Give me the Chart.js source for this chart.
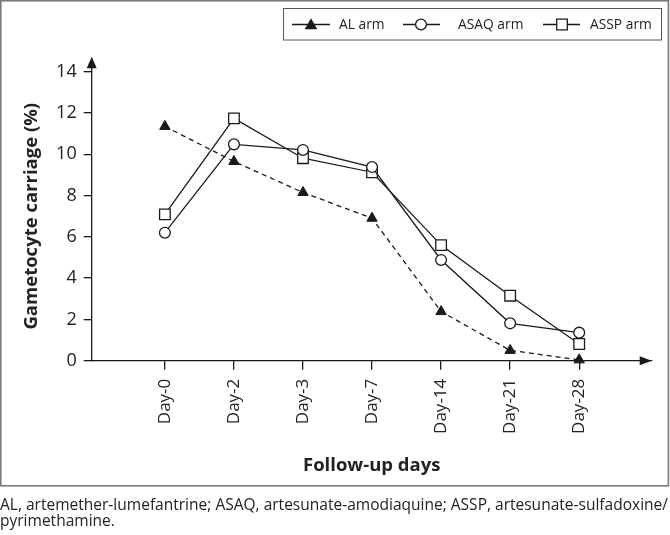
<!DOCTYPE html>
<html><head><meta charset="utf-8">
<script src="https://cdn.jsdelivr.net/npm/chart.js@4/dist/chart.umd.min.js"></script>
<style>
html,body{margin:0;padding:0;background:#fff;}
#wrap{position:relative;width:670px;height:535px;overflow:hidden;}
#c{position:absolute;left:0;top:0;}
.cap{position:absolute;left:0;font-family:"Open Sans";font-size:16.5px;color:#222;white-space:nowrap;transform-origin:0 0;line-height:1;}
</style></head><body>
<div id="wrap"><canvas id="c" width="670" height="535"></canvas>
<div class="cap" id="cap1" style="top:496px">AL, artemether-lumefantrine; ASAQ, artesunate-amodiaquine; ASSP, artesunate-sulfadoxine/</div>
<div class="cap" id="cap2" style="top:512.4px">pyrimethamine.</div>
</div>
<script>
// ---- data ----
const categories = ['Day-0','Day-2','Day-3','Day-7','Day-14','Day-21','Day-28'];
const alArm   = [11.35, 9.65, 8.15, 6.9, 2.38, 0.5, 0.04];
const asaqArm = [6.2, 10.48, 10.21, 9.38, 4.88, 1.81, 1.36];
const asspArm = [7.09, 11.74, 9.81, 9.13, 5.6, 3.15, 0.81];
const yTickValues = [0, 2, 4, 6, 8, 10, 12, 14];
const seriesNames = ['AL arm', 'ASAQ arm', 'ASSP arm'];

const INK = '#1a1a1a';
const TXT = '#222';

function drawMarker(ctx, style, x, y) {
  ctx.save();
  ctx.lineWidth = 1.3;
  ctx.strokeStyle = INK;
  ctx.beginPath();
  if (style === 'triangle') {
    const r = 6;
    ctx.moveTo(x, y - r);
    ctx.lineTo(x + r * Math.sin(2*Math.PI/3), y - r * Math.cos(2*Math.PI/3));
    ctx.lineTo(x + r * Math.sin(4*Math.PI/3), y - r * Math.cos(4*Math.PI/3));
    ctx.closePath();
    ctx.fillStyle = INK; ctx.fill(); ctx.stroke();
  } else if (style === 'circle') {
    ctx.arc(x, y, 5.4, 0, Math.PI * 2);
    ctx.fillStyle = '#fff'; ctx.fill(); ctx.stroke();
  } else {
    const s = 5.3;
    ctx.rect(x - s, y - s, 2*s, 2*s);
    ctx.fillStyle = '#fff'; ctx.fill(); ctx.stroke();
  }
  ctx.restore();
}

const deco = {
  id: 'deco',
  afterDraw(chart) {
    const ctx = chart.ctx, ca = chart.chartArea;
    ctx.save();
    // outer frame
    ctx.strokeStyle = '#7a7a7a';
    ctx.lineWidth = 1.6;
    ctx.strokeRect(0.8, 0.8, 667.6, 485);
    // axis extensions + arrows
    ctx.strokeStyle = INK; ctx.fillStyle = INK; ctx.lineWidth = 1.3;
    ctx.beginPath(); ctx.moveTo(ca.left, ca.top); ctx.lineTo(ca.left, ca.top - 8); ctx.stroke();
    ctx.beginPath();
    ctx.moveTo(ca.left, ca.top - 15);
    ctx.lineTo(ca.left + 5, ca.top - 3.5);
    ctx.lineTo(ca.left - 5, ca.top - 3.5);
    ctx.closePath(); ctx.fill();
    ctx.beginPath();
    ctx.moveTo(ca.right, ca.bottom);
    ctx.lineTo(ca.right - 12, ca.bottom - 4.5);
    ctx.lineTo(ca.right - 12, ca.bottom + 4.5);
    ctx.closePath(); ctx.fill();
    // legend box
    ctx.strokeStyle = '#555'; ctx.lineWidth = 1;
    ctx.strokeRect(283.5, 8.5, 378, 31.5);
    const items = [
      {x1: 292, x2: 330, mx: 311, style: 'triangle', tx: 339},
      {x1: 403, x2: 440, mx: 421, style: 'circle', tx: 458},
      {x1: 543, x2: 580, mx: 562, style: 'rect', tx: 590}
    ];
    const ly = 24.5;
    items.forEach((it, i) => {
      ctx.strokeStyle = INK; ctx.lineWidth = 1.3;
      ctx.beginPath(); ctx.moveTo(it.x1, ly); ctx.lineTo(it.x2, ly); ctx.stroke();
      drawMarker(ctx, it.style, it.mx, it.style === 'triangle' ? ly + 1 : ly);
      ctx.save();
      ctx.translate(it.tx, ly);
      ctx.scale(0.92, 1);
      ctx.font = '15px "Open Sans"';
      ctx.textBaseline = 'middle';
      ctx.textAlign = 'left';
      ctx.fillStyle = TXT;
      ctx.fillText(seriesNames[i], 0, 0);
      ctx.restore();
    });
    ctx.restore();
  }
};

function toPts(arr) { return arr.map((v, i) => ({x: i, y: v})); }

function build() {
  new Chart(document.getElementById('c'), {
    type: 'line',
    data: {
      datasets: [
        {label: seriesNames[0], data: toPts(alArm), borderColor: INK, borderWidth: 1.3, borderDash: [5, 4],
         pointStyle: 'triangle', pointRadius: 6, pointBackgroundColor: INK, pointBorderColor: INK, pointBorderWidth: 1, tension: 0, clip: false},
        {label: seriesNames[1], data: toPts(asaqArm), borderColor: INK, borderWidth: 1.3,
         pointStyle: 'circle', pointRadius: 5.4, pointBackgroundColor: '#fff', pointBorderColor: INK, pointBorderWidth: 1.3, tension: 0, clip: false},
        {label: seriesNames[2], data: toPts(asspArm), borderColor: INK, borderWidth: 1.3,
         pointStyle: 'rect', pointRadius: 7.5, pointBackgroundColor: '#fff', pointBorderColor: INK, pointBorderWidth: 1.3, tension: 0, clip: false}
      ]
    },
    options: {
      responsive: false,
      animation: false,
      layout: {padding: {top: 71.7, right: 18.3, bottom: 0, left: 0}},
      plugins: {legend: {display: false}, tooltip: {enabled: false}},
      scales: {
        x: {
          type: 'linear', min: -1.06, max: 7.05,
          afterBuildTicks: s => { s.ticks = categories.map((c, i) => ({value: i})); },
          afterFit: s => { s.height = 174.3; },
          ticks: {callback: v => categories[v], autoSkip: false, minRotation: 90, maxRotation: 90, padding: 9,
                  font: {family: 'Open Sans', size: 17}, color: TXT},
          grid: {drawOnChartArea: false, tickLength: 9, color: INK, lineWidth: 1.3},
          border: {color: INK, width: 1.3},
          title: {display: true, text: 'Follow-up days', color: TXT,
                  font: {family: 'Open Sans', size: 18.5, weight: 'bold'}, padding: {top: 0, bottom: 58}}
        },
        y: {
          min: 0, max: 14,
          afterBuildTicks: s => { s.ticks = yTickValues.map(v => ({value: v})); },
          afterFit: s => { s.width = 91.7; },
          ticks: {padding: 7, font: {family: 'Open Sans', size: 18}, color: TXT},
          grid: {drawOnChartArea: false, tickLength: 8, color: INK, lineWidth: 1.3},
          border: {color: INK, width: 1.3},
          title: {display: true, text: 'Gametocyte carriage (%)', color: TXT,
                  font: {family: 'Open Sans', size: 18.5, weight: 'bold'}, padding: {top: 20.5, bottom: 0}}
        }
      }
    },
    plugins: [deco]
  });
  // fit caption lines to the reference width
  const m = document.createElement('canvas').getContext('2d');
  m.font = '16.5px "Open Sans"';
  const w = m.measureText(document.getElementById('cap1').textContent).width;
  const sx = 668 / w;
  ['cap1', 'cap2'].forEach(id => { document.getElementById(id).style.transform = 'scaleX(' + sx + ')'; });
}

if (document.fonts && document.fonts.load) {
  Promise.all([document.fonts.load('18px "Open Sans"'), document.fonts.load('bold 18px "Open Sans"')])
    .then(build, build);
} else { build(); }
</script>
</body></html>
